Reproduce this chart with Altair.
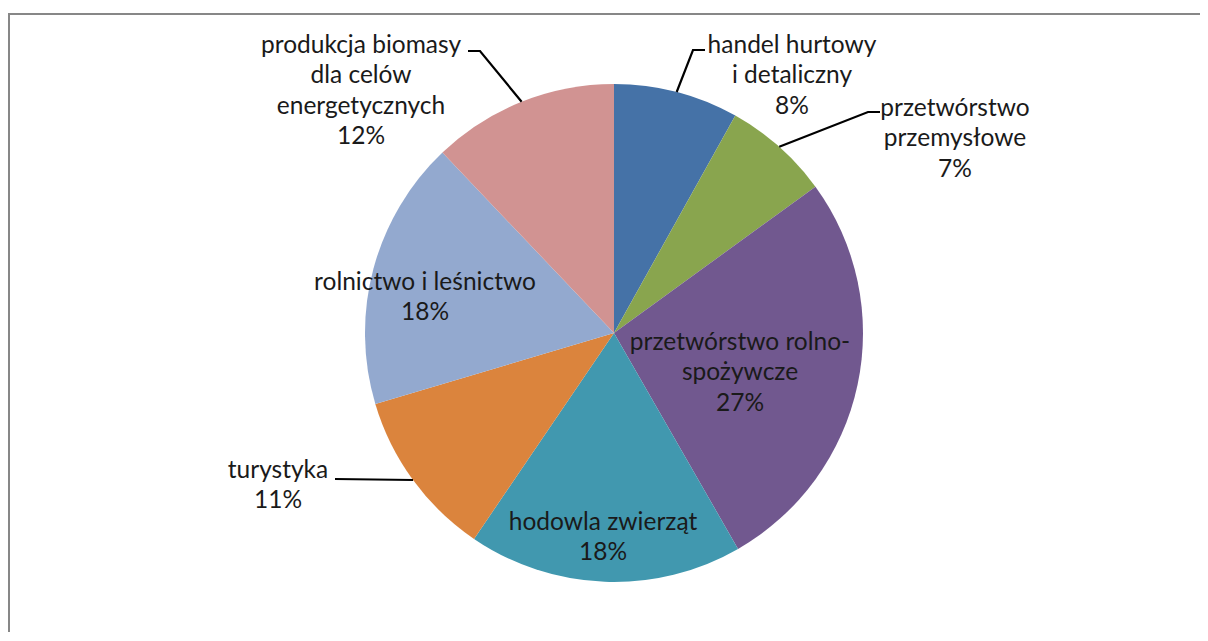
import math
import altair as alt
import pandas as pd

# ---- data ----
categories = [
    "handel hurtowy i detaliczny",
    "przetwórstwo przemysłowe",
    "przetwórstwo rolno-spożywcze",
    "hodowla zwierząt",
    "turystyka",
    "rolnictwo i leśnictwo",
    "produkcja biomasy dla celów energetycznych",
]
label_lines = [
    ["handel hurtowy", "i detaliczny"],
    ["przetwórstwo", "przemysłowe"],
    ["przetwórstwo rolno-", "spożywcze"],
    ["hodowla zwierząt"],
    ["turystyka"],
    ["rolnictwo i leśnictwo"],
    ["produkcja biomasy", "dla celów", "energetycznych"],
]
values = [8.1, 6.9, 26.7, 17.8, 10.9, 17.5, 12.1]
colors = ["#4572A7", "#89A54E", "#71588F", "#4198AF", "#DB843D", "#93A9CF", "#D19392"]

# ---- layout (pixels inside the plot area; label y = first text line) ----
W, H = 1192, 619
CX, CY, R = 606, 320, 249
label_pos = [(784, 32.5), (947, 95.5), (732, 329.5), (595, 509.5), (270, 457.5), (417, 269.5), (353, 32.5)]
leader_bend = [[(685, 37), (697, 37)], [(860, 99), (872, 99)], None, None,
               [(327, 466)], None, [(472, 38), (460, 38)]]
FONT = "Lato"
FS = 24.5
LH = 30.5

total = sum(values)
pie_df = pd.DataFrame({"cat": categories, "value": values, "k": list(range(len(values)))})

lab_rows, lead_rows = [], []
cum = 0.0
for i, (c, v) in enumerate(zip(categories, values)):
    mid = (cum + v / 2) / total * 2 * math.pi
    cum += v
    pct = f"{int(v / total * 100 + 0.5)}%"
    lab_rows.append({"x": label_pos[i][0], "y": label_pos[i][1],
                     "t": "\n".join(label_lines[i] + [pct])})
    if leader_bend[i]:
        pts = [(CX + R * math.sin(mid), CY - R * math.cos(mid))] + leader_bend[i]
        for j, (px, py) in enumerate(pts):
            lead_rows.append({"seg": c, "j": j, "x": px, "y": py})
lab_df = pd.DataFrame(lab_rows)
lead_df = pd.DataFrame(lead_rows)

xs = alt.Scale(domain=[0, W], range=[0, W])
ys = alt.Scale(domain=[0, H], range=[0, H])

pie = alt.Chart(pie_df).mark_arc(radius=R).encode(
    theta=alt.Theta("value:Q", stack=True),
    order=alt.Order("k:Q"),
    color=alt.Color("cat:N", scale=alt.Scale(domain=categories, range=colors), legend=None),
    x=alt.value(CX), y=alt.value(CY),
)

leaders = alt.Chart(lead_df).mark_line(color="#000000", strokeWidth=2.2).encode(
    x=alt.X("x:Q", scale=xs, axis=None),
    y=alt.Y("y:Q", scale=ys, axis=None),
    detail="seg:N",
    order="j:Q",
)

labels = alt.Chart(lab_df).mark_text(
    font=FONT, fontSize=FS, lineHeight=LH, lineBreak="\n",
    align="center", baseline="middle", color="#1a1a1a",
).encode(
    x=alt.X("x:Q", scale=xs, axis=None),
    y=alt.Y("y:Q", scale=ys, axis=None),
    text="t:N",
)

frame_df = pd.DataFrame({"a": [0]})
left_rule = alt.Chart(frame_df).mark_rule(color="#878787", strokeWidth=2).encode(
    x=alt.value(1), y=alt.value(0), y2=alt.value(H))
top_rule = alt.Chart(frame_df).mark_rule(color="#878787", strokeWidth=2).encode(
    y=alt.value(1), x=alt.value(0), x2=alt.value(W))

chart = alt.layer(pie, leaders, labels, left_rule, top_rule).properties(
    width=W, height=H,
    padding={"left": 0, "top": 5, "right": 0, "bottom": 0},
    autosize=alt.AutoSizeParams(type="none"),
).configure_view(stroke=None).configure(background="white")

chart.save("out.html", embed_options={"renderer": "svg", "actions": False})
